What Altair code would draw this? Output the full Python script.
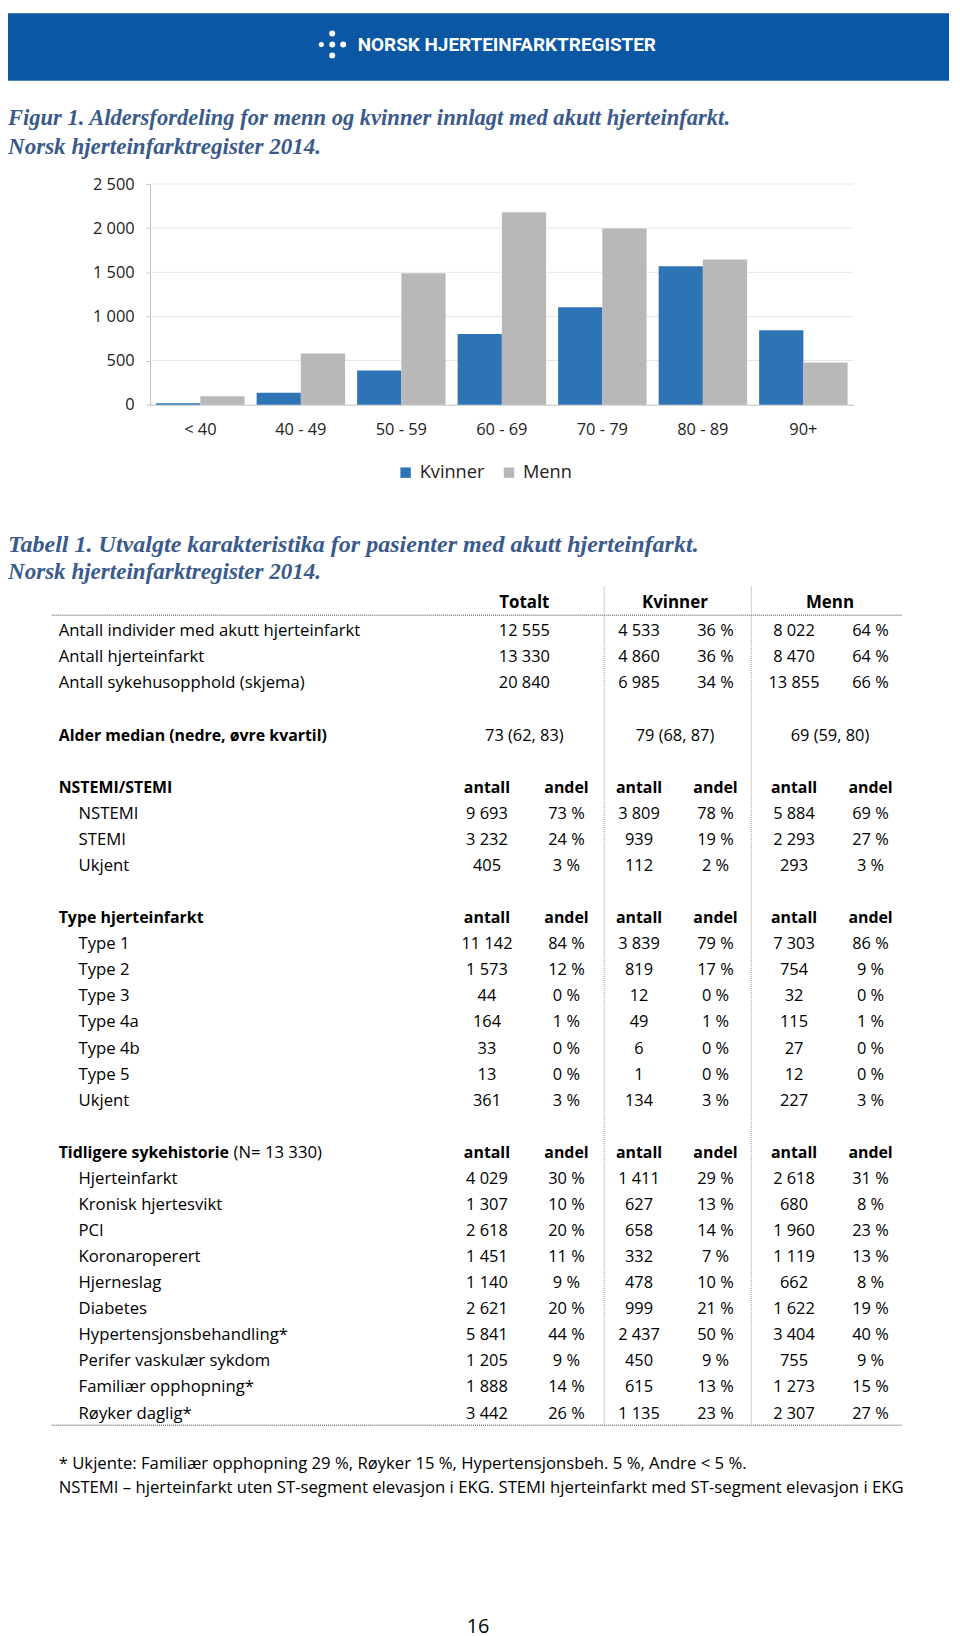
import altair as alt
import pandas as pd

W, H = 950, 1632
FONT = "Open Sans"
SERIF = "Liberation Serif"

# ---------------- header / titles ----------------
header_text = "NORSK HJERTEINFARKTREGISTER"
logo_dx = [0, -11, 0, 11, 0]
logo_dy = [-11, 0, 0, 0, 11]
logo_size = [36, 26, 36, 36, 36]
fig_title = ["Figur 1. Aldersfordeling for menn og kvinner innlagt med akutt hjerteinfarkt.",
             "Norsk hjerteinfarktregister 2014."]
tab_title = ["Tabell 1. Utvalgte karakteristika for pasienter med akutt hjerteinfarkt.",
             "Norsk hjerteinfarktregister 2014."]

# ---------------- figure data ----------------
age_groups = ["< 40", "40 - 49", "50 - 59", "60 - 69", "70 - 79", "80 - 89", "90+"]
kvinner = [15, 136, 386, 802, 1104, 1570, 843]
menn = [95, 579, 1490, 2182, 1997, 1645, 477]
series = ["Kvinner", "Menn"]
series_colors = ["#2e74b5", "#b8b8b8"]
y_ticks = [0, 500, 1000, 1500, 2000, 2500]

# ---------------- table data ----------------
col_headers = ["Totalt", "Kvinner", "Menn"]
sub_headers = ["antall", "andel"]

top_labels = ["Antall individer med akutt hjerteinfarkt", "Antall hjerteinfarkt",
              "Antall sykehusopphold (skjema)"]
top_totalt = [12555, 13330, 20840]
top_kv_n = [4533, 4860, 6985]
top_kv_p = [36, 36, 34]
top_me_n = [8022, 8470, 13855]
top_me_p = [64, 64, 66]

age_label = "Alder median (nedre, øvre kvartil)"
age_values = ["73 (62, 83)", "79 (68, 87)", "69 (59, 80)"]

stemi_title = "NSTEMI/STEMI"
stemi_items = ["NSTEMI", "STEMI", "Ukjent"]
stemi_tot_n = [9693, 3232, 405]
stemi_tot_p = [73, 24, 3]
stemi_kv_n = [3809, 939, 112]
stemi_kv_p = [78, 19, 2]
stemi_me_n = [5884, 2293, 293]
stemi_me_p = [69, 27, 3]

type_title = "Type hjerteinfarkt"
type_items = ["Type 1", "Type 2", "Type 3", "Type 4a", "Type 4b", "Type 5", "Ukjent"]
type_tot_n = [11142, 1573, 44, 164, 33, 13, 361]
type_tot_p = [84, 12, 0, 1, 0, 0, 3]
type_kv_n = [3839, 819, 12, 49, 6, 1, 134]
type_kv_p = [79, 17, 0, 1, 0, 0, 3]
type_me_n = [7303, 754, 32, 115, 27, 12, 227]
type_me_p = [86, 9, 0, 1, 0, 0, 3]

hist_title = "Tidligere sykehistorie"
hist_note = "(N= 13 330)"
hist_items = ["Hjerteinfarkt", "Kronisk hjertesvikt", "PCI", "Koronaroperert", "Hjerneslag",
              "Diabetes", "Hypertensjonsbehandling*", "Perifer vaskulær sykdom",
              "Familiær opphopning*", "Røyker daglig*"]
hist_tot_n = [4029, 1307, 2618, 1451, 1140, 2621, 5841, 1205, 1888, 3442]
hist_tot_p = [30, 10, 20, 11, 9, 20, 44, 9, 14, 26]
hist_kv_n = [1411, 627, 658, 332, 478, 999, 2437, 450, 615, 1135]
hist_kv_p = [29, 13, 14, 7, 10, 21, 50, 9, 13, 23]
hist_me_n = [2618, 680, 1960, 1119, 662, 1622, 3404, 755, 1273, 2307]
hist_me_p = [31, 8, 23, 13, 8, 19, 40, 9, 15, 27]

footnotes = ["* Ukjente: Familiær opphopning 29 %, Røyker 15 %, Hypertensjonsbeh. 5 %, Andre < 5 %.",
             "NSTEMI \u2013 hjerteinfarkt uten ST-segment elevasjon i EKG. STEMI hjerteinfarkt med ST-segment elevasjon i EKG"]
page_number = "16"


def fmt_n(n):
    return f"{n:,}".replace(",", " ")


def fmt_p(p):
    return f"{p} %"


# ---------------- build table cells ----------------
labels, cells, bold_cells = [], [], []
for j, h in enumerate(col_headers):
    bold_cells.append(dict(row=-0.08, col=0.47 + 2 * j, txt=h, size=17))

r = 1
for i, lab in enumerate(top_labels):
    labels.append(dict(row=r, txt=lab, kind="plain"))
    for c, v in [(0.47, fmt_n(top_totalt[i])), (2, fmt_n(top_kv_n[i])), (3, fmt_p(top_kv_p[i])),
                 (4, fmt_n(top_me_n[i])), (5, fmt_p(top_me_p[i]))]:
        cells.append(dict(row=r, col=c, txt=v))
    r += 1
r += 1
labels.append(dict(row=r, txt=age_label, kind="bold"))
for j, v in enumerate(age_values):
    cells.append(dict(row=r, col=0.47 + 2 * j, txt=v))
r += 2

sections = [
    (stemi_title, stemi_items, stemi_tot_n, stemi_tot_p, stemi_kv_n, stemi_kv_p, stemi_me_n, stemi_me_p),
    (type_title, type_items, type_tot_n, type_tot_p, type_kv_n, type_kv_p, type_me_n, type_me_p),
    (hist_title, hist_items, hist_tot_n, hist_tot_p, hist_kv_n, hist_kv_p, hist_me_n, hist_me_p),
]
hist_row = None
for title, items, tn, tp, kn, kp, mn, mp in sections:
    labels.append(dict(row=r, txt=title, kind="bold"))
    if title == hist_title:
        hist_row = r
    for j in range(3):
        bold_cells.append(dict(row=r, col=2 * j, txt=sub_headers[0], size=16))
        bold_cells.append(dict(row=r, col=2 * j + 1, txt=sub_headers[1], size=16))
    r += 1
    for i, it in enumerate(items):
        labels.append(dict(row=r, txt=it, kind="item"))
        vals = [fmt_n(tn[i]), fmt_p(tp[i]), fmt_n(kn[i]), fmt_p(kp[i]), fmt_n(mn[i]), fmt_p(mp[i])]
        for c, v in enumerate(vals):
            cells.append(dict(row=r, col=c, txt=v))
        r += 1
    r += 1
last_row = r - 2

labels_df = pd.DataFrame(labels)
cells_df = pd.DataFrame(cells)
bold_df = pd.DataFrame(bold_cells)

ROW_PITCH = 26.24
ROW_Y = alt.Scale(domain=[0, last_row], range=[600.9, 600.9 + ROW_PITCH * last_row], nice=False, zero=False)
COL_X = alt.Scale(domain=[0, 1, 2, 3, 4, 5], range=[482, 562, 635, 712, 791, 868], nice=False, zero=False)

dummy = pd.DataFrame({"k": [0]})


def rule(x1, x2, y1, y2, color, width, dash):
    return alt.Chart(dummy).mark_rule(color=color, strokeWidth=width, strokeDash=dash).encode(
        x=alt.value(x1), x2=alt.value(x2), y=alt.value(y1), y2=alt.value(y2))


def text(txt, x, y, **kw):
    return alt.Chart(pd.DataFrame({"t": [txt]})).mark_text(baseline="alphabetic", **kw).encode(
        text="t:N", x=alt.value(x), y=alt.value(y))


# ---------------- header ----------------
band = alt.Chart(dummy).mark_rect(color="#0b57a4").encode(
    x=alt.value(0), x2=alt.value(947), y=alt.value(0), y2=alt.value(68))
logo_df = pd.DataFrame({"dx": logo_dx, "dy": logo_dy, "s": logo_size})
logo = alt.Chart(logo_df).mark_point(filled=True, shape="circle", color="white", opacity=1).encode(
    x=alt.X("dx:Q", scale=alt.Scale(domain=[-11, 11], range=[315.3, 337.3], nice=False, zero=False), axis=None),
    y=alt.Y("dy:Q", scale=alt.Scale(domain=[-11, 11], range=[20.5, 42.5], nice=False, zero=False), axis=None),
    size=alt.Size("s:Q", scale=None, legend=None))
head_txt = text(header_text, 352, 38.5, align="left", font="Roboto", fontSize=19,
                fontWeight="bold", color="white")

title_kw = dict(align="left", font=SERIF, fontStyle="italic", fontWeight="bold", color="#3b5a8c")
t1 = text(fig_title[0], 0, 113, fontSize=22.7, **title_kw)
t2 = text(fig_title[1], 0, 142, fontSize=23.2, **title_kw)
t3 = text(tab_title[0], 0, 542, fontSize=24.2, **title_kw)
t4 = text(tab_title[1], 0, 569, fontSize=23.2, **title_kw)

# ---------------- bar chart ----------------
bar_df = pd.DataFrame({
    "age": age_groups * 2,
    "sex": [series[0]] * len(age_groups) + [series[1]] * len(age_groups),
    "n": kvinner + menn,
})
Y0, Y1 = 394, 172
YS = dict(domain=[0, 2500], range=[Y0, Y1], nice=False, zero=True)
grid = alt.Chart(pd.DataFrame({"v": y_ticks[1:]})).mark_rule(color="#e6e6e6", strokeWidth=1).encode(
    y=alt.Y("v:Q", scale=alt.Scale(**YS), axis=None), x=alt.value(143), x2=alt.value(851))
bars = alt.Chart(bar_df).mark_bar().encode(
    x=alt.X("age:N", sort=age_groups,
            scale=alt.Scale(domain=age_groups, range=[143, 851], paddingInner=0.12, paddingOuter=0.06),
            axis=alt.Axis(title=None, orient="bottom", offset=Y0 - H, labelAngle=0, ticks=False,
                          labelPadding=17, domainColor="#bfbfbf", domainWidth=1, grid=False,
                          labelFont=FONT, labelFontSize=16.5, labelColor="#222")),
    xOffset=alt.XOffset("sex:N", sort=series,
                        scale=alt.Scale(domain=series, paddingInner=0, paddingOuter=0)),
    y=alt.Y("n:Q", scale=alt.Scale(**YS),
            axis=alt.Axis(title=None, orient="left", offset=-143, values=y_ticks, tickSize=4,
                          labelPadding=12, domainColor="#bfbfbf", tickColor="#bfbfbf", grid=False,
                          labelExpr="replace(format(datum.value, ','), ',', ' ')",
                          labelFont=FONT, labelFontSize=16.5, labelColor="#222")),
    color=alt.Color("sex:N", sort=series, scale=alt.Scale(domain=series, range=series_colors),
                    legend=alt.Legend(title=None, orient="none", legendX=391, legendY=453,
                                      direction="horizontal", symbolType="square", symbolSize=110,
                                      symbolStrokeWidth=0, symbolOpacity=1, labelFont=FONT,
                                      labelFontSize=18.3, labelColor="#222", labelOffset=5,
                                      columnPadding=15, padding=0)),
)

# ---------------- table ----------------
tab_font = dict(font=FONT, color="#000", baseline="alphabetic")
lab_plain = alt.Chart(labels_df[labels_df.kind == "plain"]).mark_text(
    align="left", fontSize=16.8, **tab_font).encode(
    text="txt:N", x=alt.value(51), y=alt.Y("row:Q", scale=ROW_Y, axis=None))
lab_bold = alt.Chart(labels_df[labels_df.kind == "bold"]).mark_text(
    align="left", fontSize=16, fontWeight="bold", **tab_font).encode(
    text="txt:N", x=alt.value(51), y=alt.Y("row:Q", scale=ROW_Y, axis=None))
lab_item = alt.Chart(labels_df[labels_df.kind == "item"]).mark_text(
    align="left", fontSize=16.8, **tab_font).encode(
    text="txt:N", x=alt.value(71), y=alt.Y("row:Q", scale=ROW_Y, axis=None))
note = alt.Chart(pd.DataFrame({"row": [hist_row], "txt": [hist_note]})).mark_text(
    align="left", fontSize=16.8, **tab_font).encode(
    text="txt:N", x=alt.value(227), y=alt.Y("row:Q", scale=ROW_Y, axis=None))
cell_txt = alt.Chart(cells_df).mark_text(align="center", fontSize=16.5, **tab_font).encode(
    text="txt:N", x=alt.X("col:Q", scale=COL_X, axis=None), y=alt.Y("row:Q", scale=ROW_Y, axis=None))
bold_txt = alt.Chart(bold_df).mark_text(align="center", fontWeight="bold", **tab_font).encode(
    text="txt:N", x=alt.X("col:Q", scale=COL_X, axis=None), y=alt.Y("row:Q", scale=ROW_Y, axis=None),
    size=alt.Size("size:Q", scale=None, legend=None))

line_top = rule(44, 900, 606, 606, "#808080", 1.5, [1, 1])
line_bot = rule(44, 900, 1421, 1421, "#808080", 1.5, [1, 1])
vline1 = rule(600, 600, 577, 1421, "#9a9a9a", 1, [1, 1])
vline2 = rule(748, 748, 577, 1421, "#9a9a9a", 1, [1, 1])

foot1 = text(footnotes[0], 51, 1465, align="left", font=FONT, fontSize=16.8, color="#000")
foot2 = text(footnotes[1], 51, 1489, align="left", font=FONT, fontSize=16.8, color="#000")
pnum = text(page_number, 473, 1630, align="center", font=FONT, fontSize=20, color="#000")

chart = alt.layer(
    band, logo, head_txt, t1, t2,
    grid, bars,
    t3, t4, line_top, line_bot, vline1, vline2,
    lab_plain, lab_bold, lab_item, note, cell_txt, bold_txt,
    foot1, foot2, pnum,
).resolve_scale(
    x="independent", y="independent", color="independent", size="independent"
).properties(
    width=W, height=H, padding=0, autosize=alt.AutoSizeParams(type="none"), background="white"
).configure_view(stroke=None)

chart.save("out.html", embed_options={"renderer": "svg", "actions": False})
